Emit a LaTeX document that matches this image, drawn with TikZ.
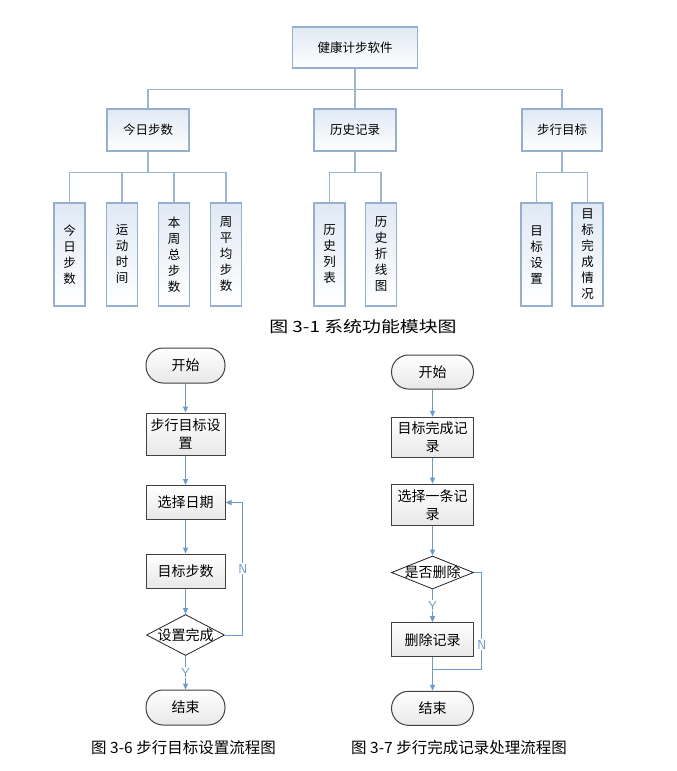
\documentclass[tikz,border=0pt]{standalone}
\usepackage{fontspec}
\setmainfont{Noto Sans CJK SC}
\usetikzlibrary{shapes.geometric,arrows.meta}
\definecolor{modline}{HTML}{95B0CE}
\definecolor{modfill}{HTML}{E0E9F4}
\definecolor{linkblue}{HTML}{9CB6D0}
\definecolor{flowblue}{HTML}{6A9BC9}
\tikzset{
  module/.style={draw=modline, line width=1.1pt, top color=modfill, bottom color=white, inner sep=0pt, align=center, font=\fontsize{12.5}{16}\selectfont},
  leaf/.style={module, minimum width=31pt, minimum height=103pt},
  link/.style={linkblue, line width=1.3pt},
  procbox/.style={draw=black!75, line width=1pt, top color=white, bottom color=black!9, inner sep=0pt, align=center, font=\fontsize{14}{18}\selectfont},
  termbox/.style={procbox, rounded corners=17pt, minimum height=35pt},
  decbox/.style={diamond, draw=black!85, line width=0.8pt, fill=white, inner sep=0pt},
  dectext/.style={font=\fontsize{14}{18}\selectfont, inner sep=0pt},
  flow/.style={flowblue, line width=1pt, -{Triangle[length=6pt,width=5pt]}},
  flowlbl/.style={fill=white, text=flowblue, inner sep=1pt, font=\fontsize{13}{13}\selectfont\sffamily},
  caption/.style={font=\fontsize{15.5}{17}\selectfont}
}
\begin{document}
\begin{tikzpicture}[x=1pt, y=-1pt]
    \useasboundingbox (0,0) rectangle (677,771);
    \node[module, minimum width=125pt, minimum height=41pt] (root) at (355,47.5) {健康计步软件};
    \node[module, minimum width=82pt, minimum height=42pt] (today) at (148,130) {今日步数};
    \node[module, minimum width=82pt, minimum height=42pt] (hist) at (355,130) {历史记录};
    \node[module, minimum width=80pt, minimum height=42pt] (goal) at (562,130) {步行目标};
    \node[leaf] (t1) at (69.5,254.5) {今\\日\\步\\数};
    \node[leaf] (t2) at (122,254.5) {运\\动\\时\\间};
    \node[leaf] (t3) at (174,254.5) {本\\周\\总\\步\\数};
    \node[leaf] (t4) at (226,254.5) {周\\平\\均\\步\\数};
    \node[leaf] (h1) at (329.5,254.5) {历\\史\\列\\表};
    \node[leaf] (h2) at (381,254.5) {历\\史\\折\\线\\图};
    \node[leaf] (g1) at (536.5,254.5) {目\\标\\设\\置};
    \node[leaf] (g2) at (587.5,254.5) {目\\标\\完\\成\\情\\况};
    \draw[link] (root.south) -- ++(0,21) coordinate (b0);
    \draw[link] (today.north) |- (b0) -| (goal.north);
    \draw[link] (b0) -- (hist.north);
    \draw[link] (today.south) -- ++(0,21) coordinate (b1);
    \draw[link] (t1.north) |- (b1) -| (t4.north);
    \draw[link] (t2.north) |- (b1);
    \draw[link] (t3.north) |- (b1);
    \draw[link] (hist.south) -- ++(0,21) coordinate (b2);
    \draw[link] (h1.north) |- (b2) -| (h2.north);
    \draw[link] (goal.south) -- ++(0,21) coordinate (b3);
    \draw[link] (g1.north) |- (b3) -| (g2.north);
    \node[caption, xscale=1.22] (cap1) at (363,327) {图 3-1 系统功能模块图};

    \node[termbox, minimum width=79pt] (s1) at (185.5,365.5) {开始};
    \node[procbox, minimum width=79pt, minimum height=42pt] (a1) at (185.5,434) {步行目标设\\置};
    \node[procbox, minimum width=79pt, minimum height=34pt] (a2) at (185.5,502.5) {选择日期};
    \node[procbox, minimum width=79pt, minimum height=34pt] (a3) at (185.5,571) {目标步数};
    \node[decbox, minimum width=78pt, minimum height=41pt, label={[dectext]center:设置完成}] (d1) at (185.5,635) {};
    \node[termbox, minimum width=79pt] (e1) at (185.5,707.5) {结束};
    \draw[flow] (s1) -- (a1);
    \draw[flow] (a1) -- (a2);
    \draw[flow] (a2) -- (a3);
    \draw[flow] (a3) -- (d1);
    \draw[flow] (d1) -- node[flowlbl] {Y} (e1);
    \draw[flow] (d1.east) -- ++(18,0) |- (a2.east) node[flowlbl, pos=0.25] {N};
    \node[caption] (cap2) at (183.5,748) {图 3-6 步行目标设置流程图};

    \node[termbox, minimum width=82pt, minimum height=34pt] (s2) at (432.5,372) {开始};
    \node[procbox, minimum width=82pt, minimum height=40pt] (c1) at (432.5,437.3) {目标完成记\\录};
    \node[procbox, minimum width=82pt, minimum height=41pt] (c2) at (432.5,504.7) {选择一条记\\录};
    \node[decbox, minimum width=82pt, minimum height=33pt, label={[dectext]center:是否删除}] (d2) at (432.5,572.5) {};
    \node[procbox, minimum width=82pt, minimum height=34pt] (c3) at (432.5,639.7) {删除记录};
    \node[termbox, minimum width=82pt, minimum height=34pt] (e2) at (432.5,708.3) {结束};
    \coordinate (m2) at (432.5,669);
    \draw[flow] (s2) -- (c1);
    \draw[flow] (c1) -- (c2);
    \draw[flow] (c2) -- (d2);
    \draw[flow] (d2) -- node[flowlbl] {Y} (c3);
    \draw[flow] (c3) -- (e2);
    \draw[flowblue, line width=1pt] (d2.east) -- ++(8,0) |- (m2) node[flowlbl, pos=0.375] {N};
    \node[caption] (cap3) at (459,748) {图 3-7 步行完成记录处理流程图};
\end{tikzpicture}
\end{document}
